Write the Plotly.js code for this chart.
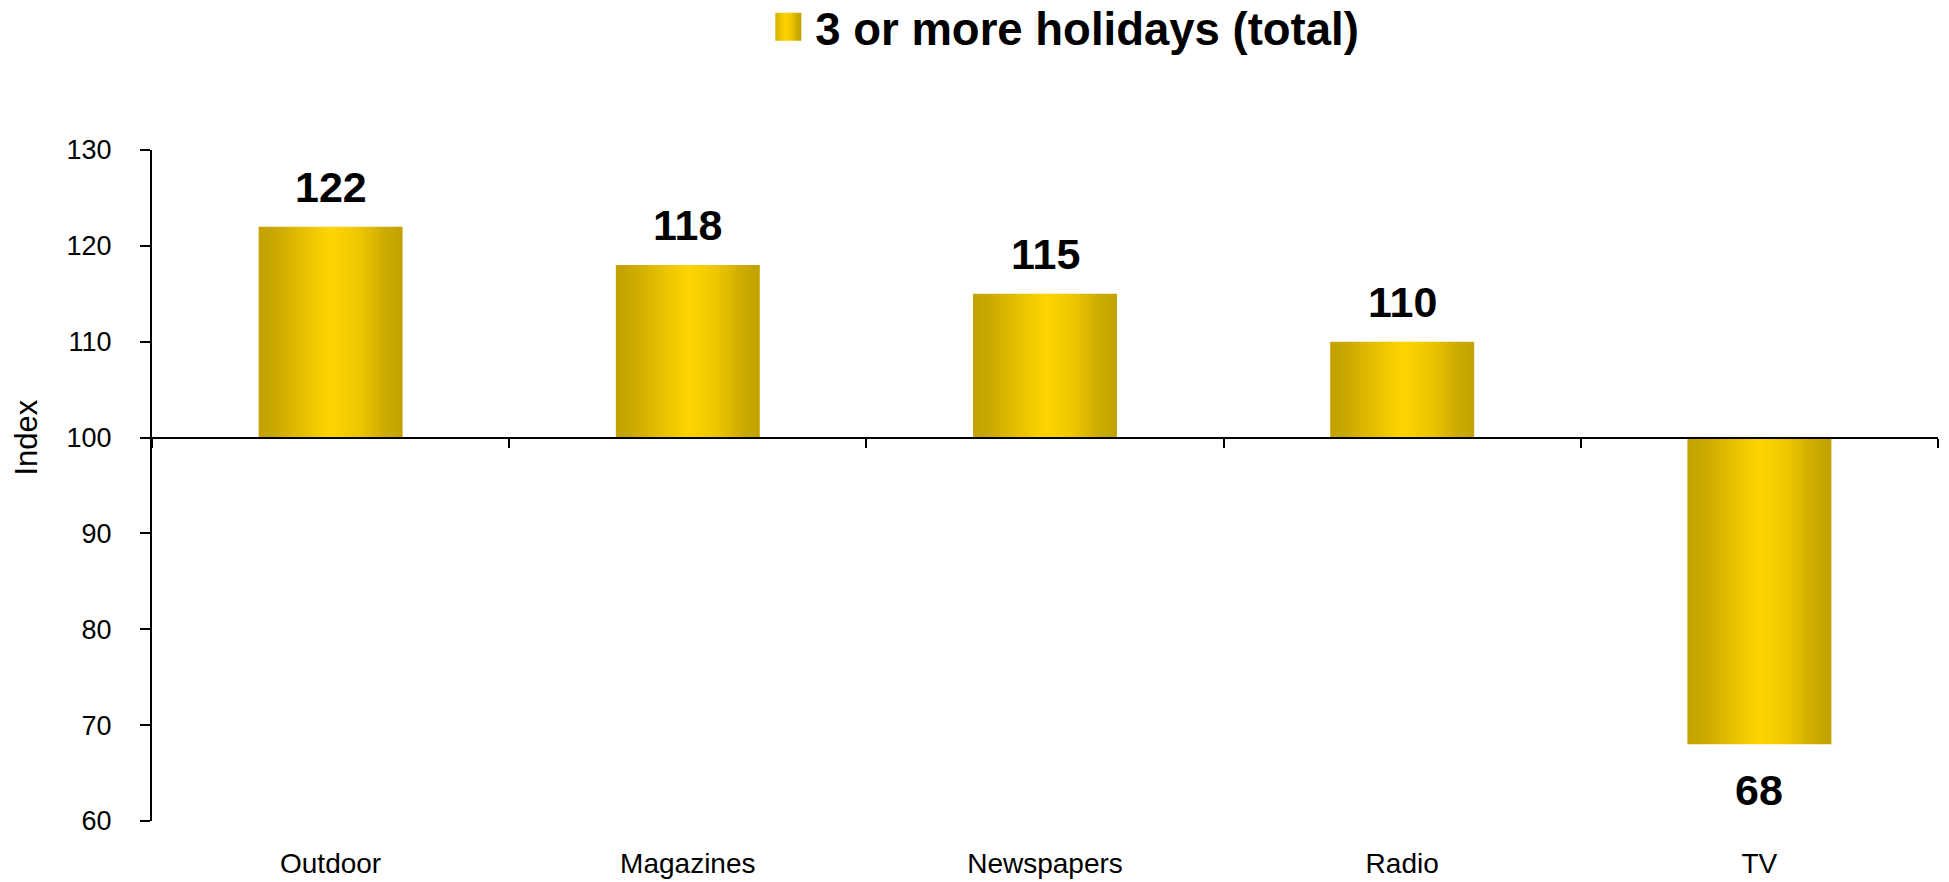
<!DOCTYPE html>
<html>
<head>
<meta charset="utf-8">
<script src="https://cdn.plot.ly/plotly-3.0.1.min.js"></script>
<style>
  html, body { margin: 0; padding: 0; background: #ffffff; }
  #chart { width: 1949px; height: 882px; }
</style>
</head>
<body>
<div id="chart"></div>
<script>
// Media index for people taking 3 or more holidays (100 = average)
const categories = ['Outdoor', 'Magazines', 'Newspapers', 'Radio', 'TV'];
const indexValues = [122, 118, 115, 110, 68];
const seriesName = '3 or more holidays (total)';
const baseline = 100;
const yRange = [60, 130];
const yTicks = [60, 70, 80, 90, 100, 110, 120, 130];

const FONT = 'Liberation Sans, Arial, sans-serif';

// Bars grow up or down from the index baseline
const bars = {
  type: 'bar',
  name: seriesName,
  x: categories,
  y: indexValues.map(v => v - baseline),
  base: categories.map(() => baseline),
  marker: { color: '#E6C000', line: { width: 0 } },
  hoverinfo: 'x+text',
  hovertext: indexValues.map(String),
  showlegend: true
};

// Invisible companion trace so the baseline axis has its own subplot
const baselineCarrier = {
  type: 'scatter',
  mode: 'markers',
  x: categories,
  y: indexValues,
  xaxis: 'x2',
  yaxis: 'y',
  marker: { size: 1, opacity: 0 },
  hoverinfo: 'skip',
  showlegend: false
};

// Value labels above positive bars, below negative ones
const valueLabels = categories.map((c, i) => ({
  x: c,
  y: indexValues[i],
  xref: 'x',
  yref: 'y',
  text: String(indexValues[i]),
  showarrow: false,
  xanchor: 'center',
  yanchor: 'middle',
  yshift: indexValues[i] >= baseline ? 40 : -46,
  font: { family: FONT, size: 43, color: '#000000', weight: 'bold' }
}));

const baselineFrac = (baseline - yRange[0]) / (yRange[1] - yRange[0]);

const layout = {
  width: 1949,
  height: 882,
  margin: { l: 152, r: 11, t: 150, b: 61, autoexpand: false },
  paper_bgcolor: '#ffffff',
  plot_bgcolor: '#ffffff',
  font: { family: FONT, color: '#000000' },
  bargap: 0.597,
  showlegend: true,
  legend: {
    orientation: 'h',
    x: 0.349,
    xanchor: 'left',
    y: 1.183,
    yanchor: 'middle',
    bgcolor: 'rgba(0,0,0,0)',
    font: { family: FONT, size: 45.5, color: '#000000', weight: 'bold' }
  },
  xaxis: {
    type: 'category',
    range: [-0.5, categories.length - 0.5],
    showline: false,
    showgrid: false,
    zeroline: false,
    ticks: '',
    ticklabelstandoff: 23,
    tickfont: { family: FONT, size: 28, color: '#000000' },
    fixedrange: true
  },
  xaxis2: {
    type: 'category',
    overlaying: 'x',
    anchor: 'free',
    position: baselineFrac,
    side: 'bottom',
    range: [-0.5, categories.length - 0.5],
    showline: true,
    linecolor: '#000000',
    linewidth: 2,
    showgrid: false,
    zeroline: false,
    ticks: 'outside',
    tickson: 'boundaries',
    ticklen: 9,
    tickwidth: 2,
    tickcolor: '#000000',
    showticklabels: false,
    fixedrange: true
  },
  yaxis: {
    range: yRange,
    tickvals: yTicks,
    ticktext: yTicks.map(String),
    showline: true,
    linecolor: '#000000',
    linewidth: 2,
    showgrid: false,
    zeroline: false,
    ticks: 'outside',
    ticklen: 10,
    tickwidth: 2,
    tickcolor: '#000000',
    ticklabelstandoff: 23,
    tickfont: { family: FONT, size: 27, color: '#000000' },
    fixedrange: true
  },
  annotations: valueLabels.concat([{
    text: 'Index',
    xref: 'paper',
    yref: 'paper',
    x: -0.070,
    y: baselineFrac,
    xanchor: 'center',
    yanchor: 'middle',
    textangle: -90,
    showarrow: false,
    font: { family: FONT, size: 31, color: '#000000' }
  }])
};

// Metallic gold shading across each bar
function addGoldShading(gd) {
  const svgNS = 'http://www.w3.org/2000/svg';
  const svg = gd.querySelector('.main-svg');
  let defs = svg.querySelector('defs');
  if (!defs) { defs = document.createElementNS(svgNS, 'defs'); svg.prepend(defs); }
  const grad = document.createElementNS(svgNS, 'linearGradient');
  grad.setAttribute('id', 'goldShade');
  grad.setAttribute('x1', '0'); grad.setAttribute('y1', '0');
  grad.setAttribute('x2', '1'); grad.setAttribute('y2', '0');
  const stops = [
    [0.00, '#C3A200'],
    [0.10, '#C8A700'],
    [0.30, '#E4BF00'],
    [0.50, '#FFD500'],
    [0.70, '#EDC600'],
    [0.88, '#CCAB00'],
    [1.00, '#C2A100']
  ];
  stops.forEach(([o, c]) => {
    const s = document.createElementNS(svgNS, 'stop');
    s.setAttribute('offset', o);
    s.setAttribute('stop-color', c);
    grad.appendChild(s);
  });
  defs.appendChild(grad);

  gd.querySelectorAll('.barlayer .trace.bars path').forEach(p => {
    p.style.fill = 'url(#goldShade)';
  });
  gd.querySelectorAll('.legend .legendpoints path').forEach(p => {
    p.setAttribute('d', 'M-26,-14H6V14H-26Z');
    p.style.fill = 'url(#goldShade)';
    p.style.stroke = 'none';
  });
}

Plotly.newPlot('chart', [bars, baselineCarrier], layout, {
  displayModeBar: false,
  staticPlot: true
}).then(addGoldShading);
</script>
</body>
</html>
